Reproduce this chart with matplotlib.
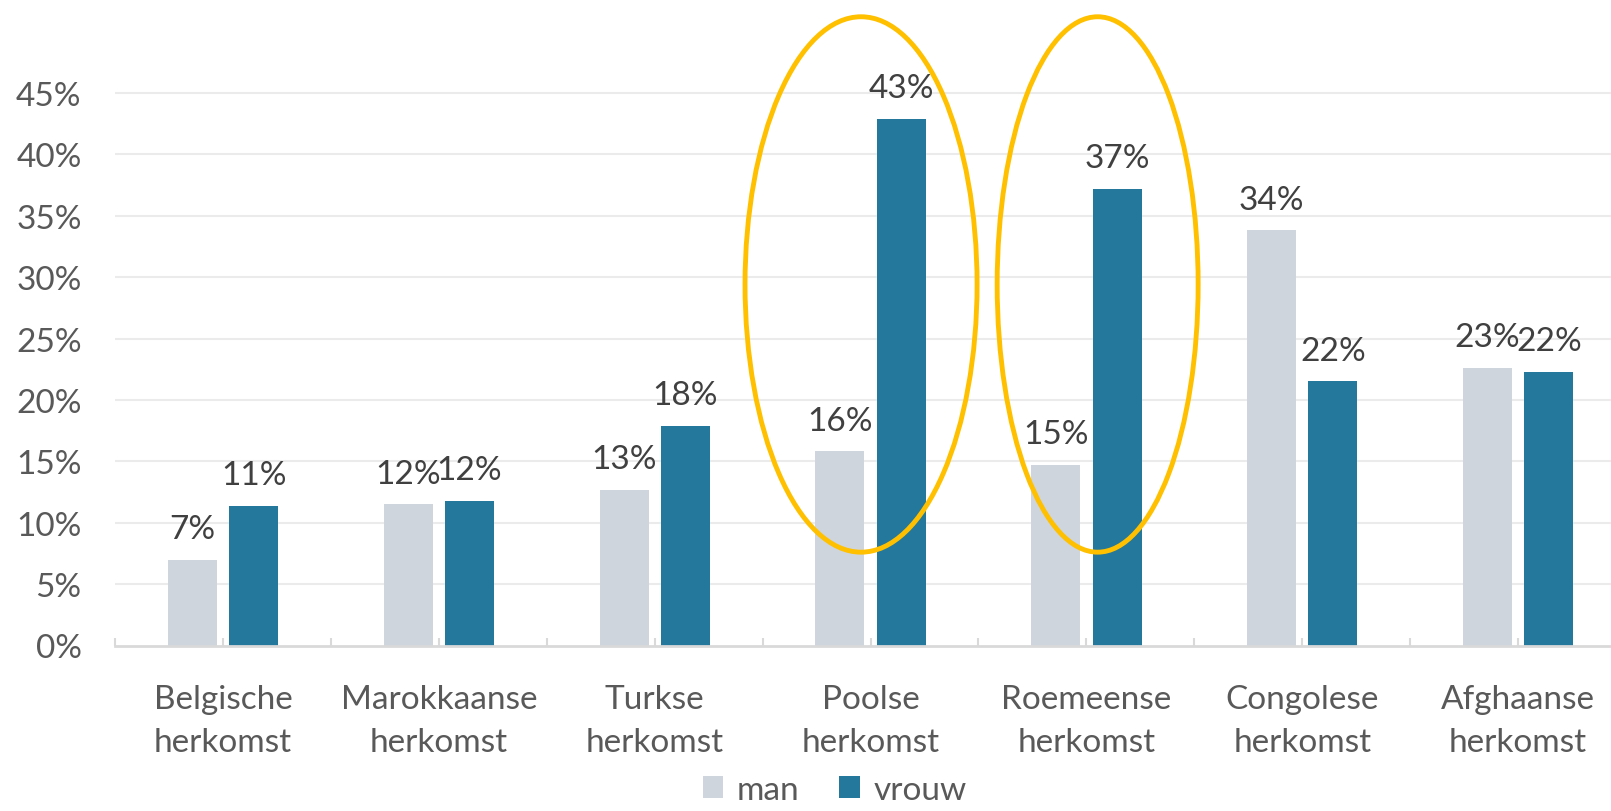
import numpy as np
import matplotlib.pyplot as plt
from matplotlib.patches import Ellipse
from matplotlib.ticker import PercentFormatter

plt.rcParams['font.family'] = ['Lato', 'DejaVu Sans']

categories_1 = ['Belgische', 'Marokkaanse', 'Turkse', 'Poolse', 'Roemeense', 'Congolese', 'Afghaanse']
categories_2 = ['herkomst'] * 7
man = [7.0, 11.5, 12.7, 15.8, 14.7, 33.8, 22.6]
vrouw = [11.4, 11.8, 17.9, 42.9, 37.2, 21.5, 22.3]
man_labels = ['7%', '12%', '13%', '16%', '15%', '34%', '23%']
vrouw_labels = ['11%', '12%', '18%', '43%', '37%', '22%', '22%']

c_man = '#CFD5DD'
c_vrouw = '#24789B'
txt = '#595959'
fs = 24

fig = plt.figure(figsize=(16.11, 8.12), dpi=100)
ax = fig.add_axes([115 / 1611, 165.5 / 812, 1 - 115 / 1611, 614 / 812])

x = np.arange(len(man))
w = 0.227
off = 0.142
b1 = ax.bar(x - off, man, w, color=c_man, label='man', zorder=2)
b2 = ax.bar(x + off, vrouw, w, color=c_vrouw, label='vrouw', zorder=2)

for bars, labs in ((b1, man_labels), (b2, vrouw_labels)):
    for b, lab in zip(bars, labs):
        ax.annotate(lab, (b.get_x() + b.get_width() / 2, b.get_height()),
                    xytext=(0, 15.5), textcoords='offset points',
                    ha='center', va='baseline', fontsize=fs, color='#404040')

ax.set_xlim(-0.5, 6.43)
ax.set_ylim(0, 50)
ax.set_yticks(np.arange(0, 50, 5))
ax.yaxis.set_major_formatter(PercentFormatter(decimals=0))
ax.tick_params(axis='y', length=0, pad=24, labelsize=fs, labelcolor=txt)
for v in np.arange(5, 50, 5):
    ax.axhline(v, color='#EBEBEB', lw=1.5, zorder=1)

ax.set_xticks(np.arange(-0.5, 6.5, 0.5))
ax.tick_params(axis='x', direction='in', length=6, width=1.5, color='#D9D9D9', labelbottom=False)
for i in x:
    ax.annotate(categories_1[i], (i, 0), xycoords=('data', 'axes fraction'),
                xytext=(0, -45), textcoords='offset points', ha='center', va='baseline',
                fontsize=fs, color=txt)
    ax.annotate(categories_2[i], (i, 0), xycoords=('data', 'axes fraction'),
                xytext=(0, -76), textcoords='offset points', ha='center', va='baseline',
                fontsize=fs, color=txt)

for s in ('top', 'right', 'left'):
    ax.spines[s].set_visible(False)
ax.spines['bottom'].set_color('#D9D9D9')
ax.spines['bottom'].set_linewidth(2)

ax.add_patch(Ellipse((2.956, 29.4), 1.075, 43.6, fill=False, ec='#FFC000', lw=3.5, clip_on=False, zorder=3))
ax.add_patch(Ellipse((4.052, 29.4), 0.931, 43.6, fill=False, ec='#FFC000', lw=3.5, clip_on=False, zorder=3))

fig.legend(handles=[b1, b2], loc='center', bbox_to_anchor=(0.518, 21 / 812), ncol=2, frameon=False,
           fontsize=fs, labelcolor=txt, handlelength=0.62, handleheight=0.62, handletextpad=0.4,
           columnspacing=1.2, borderpad=0)

fig.savefig('out.png', dpi=100)
